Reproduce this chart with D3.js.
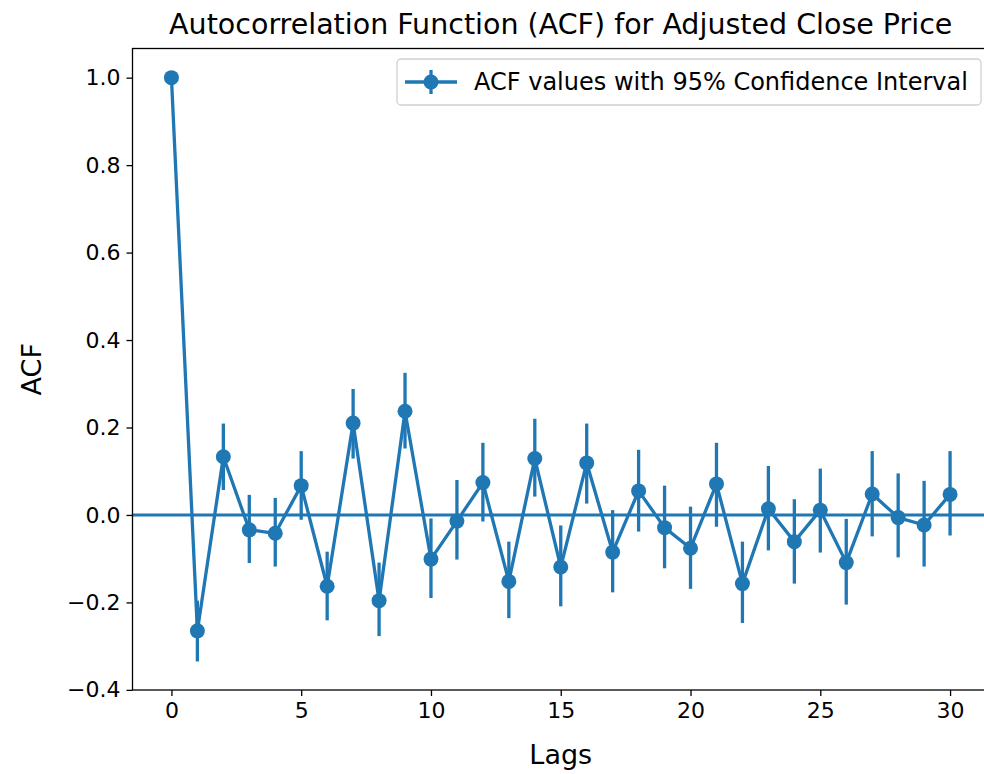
<!DOCTYPE html>
<html>
<head>
<meta charset="utf-8">
<script src="https://cdn.jsdelivr.net/npm/d3@7"></script>
<style>
  body { margin: 0; background: #fff; }
  text { font-family: "DejaVu Sans", sans-serif; fill: #000; }
</style>
</head>
<body>
<div id="chart"></div>
<script>
var lags = d3.range(0, 31);
var acfValues = [1.0, -0.265, 0.133, -0.034, -0.042, 0.067, -0.163, 0.210, -0.196, 0.237,
  -0.101, -0.014, 0.074, -0.152, 0.129, -0.119, 0.119, -0.085, 0.055, -0.029,
  -0.076, 0.071, -0.157, 0.014, -0.061, 0.011, -0.109, 0.048, -0.006, -0.023, 0.047];
var ciLower = [1.0, -0.335, 0.057, -0.110, -0.118, -0.011, -0.241, 0.129, -0.277, 0.152,
  -0.190, -0.102, -0.015, -0.236, 0.042, -0.209, 0.026, -0.177, -0.038, -0.122,
  -0.169, -0.027, -0.247, -0.081, -0.157, -0.086, -0.205, -0.049, -0.097, -0.118, -0.047];
var ciUpper = [1.0, -0.196, 0.209, 0.046, 0.039, 0.146, -0.084, 0.288, -0.109, 0.325,
  -0.008, 0.080, 0.165, -0.061, 0.220, -0.024, 0.209, 0.011, 0.149, 0.067,
  0.019, 0.165, -0.061, 0.112, 0.036, 0.106, -0.009, 0.146, 0.095, 0.078, 0.146];
var xTicks = [0, 5, 10, 15, 20, 25, 30];
var yTicks = [-0.4, -0.2, 0.0, 0.2, 0.4, 0.6, 0.8, 1.0];

var width = 984, height = 774;
var margin = {left: 132.5, top: 48.5, right: -5, bottom: 84};
var blue = "#1f77b4";

var svg = d3.select("#chart").append("svg")
  .attr("width", width)
  .attr("height", height);

var x = d3.scaleLinear().domain([-1.5, 31.5]).range([margin.left, width - margin.right]);
var y = d3.scaleLinear().domain([-0.4003, 1.0667]).range([height - margin.bottom, margin.top]);

var plot = svg.append("g");

// zero line
plot.append("line")
  .attr("x1", x.range()[0]).attr("x2", x.range()[1])
  .attr("y1", y(0)).attr("y2", y(0))
  .attr("stroke", blue).attr("stroke-width", 3);

// error bars
plot.selectAll(".err")
  .data(lags)
  .enter().append("line")
  .attr("class", "err")
  .attr("x1", function(d) { return x(d); })
  .attr("x2", function(d) { return x(d); })
  .attr("y1", function(d) { return y(ciLower[d]); })
  .attr("y2", function(d) { return y(ciUpper[d]); })
  .attr("stroke", blue).attr("stroke-width", 3.3);

var line = d3.line()
  .x(function(d) { return x(d); })
  .y(function(d) { return y(acfValues[d]); });

plot.append("path")
  .datum(lags)
  .attr("d", line)
  .attr("fill", "none")
  .attr("stroke", blue)
  .attr("stroke-width", 3.3)
  .attr("stroke-linejoin", "round");

plot.selectAll(".dot")
  .data(lags)
  .enter().append("circle")
  .attr("class", "dot")
  .attr("cx", function(d) { return x(d); })
  .attr("cy", function(d) { return y(acfValues[d]); })
  .attr("r", 7.5)
  .attr("fill", blue);

// axes
var xAxis = d3.axisBottom(x).tickValues(xTicks).tickSize(6).tickPadding(6)
  .tickFormat(d3.format("d"));
var yAxis = d3.axisLeft(y).tickValues(yTicks).tickSize(6).tickPadding(6)
  .tickFormat(function(d) { return d3.format(".1f")(d).replace("-", "\u2212"); });

var gx = svg.append("g")
  .attr("transform", "translate(0," + (height - margin.bottom) + ")")
  .call(xAxis);
var gy = svg.append("g")
  .attr("transform", "translate(" + margin.left + ",0)")
  .call(yAxis);

[gx, gy].forEach(function(g) {
  g.select(".domain").remove();
  g.selectAll(".tick line").attr("stroke", "#000").attr("stroke-width", 1.3);
  g.selectAll(".tick text").attr("font-size", 22).attr("fill", "#000")
    .style("font-family", "DejaVu Sans");
});

// spines
var sp = svg.append("g").attr("fill", "none").attr("stroke", "#000").attr("stroke-width", 1.3);
sp.append("rect")
  .attr("x", x.range()[0]).attr("y", margin.top)
  .attr("width", x.range()[1] - x.range()[0])
  .attr("height", height - margin.bottom - margin.top);

// title and labels
svg.append("text")
  .attr("x", (x.range()[0] + x.range()[1]) / 2)
  .attr("y", 33.5)
  .attr("text-anchor", "middle")
  .attr("font-size", 28.5)
  .text("Autocorrelation Function (ACF) for Adjusted Close Price");

svg.append("text")
  .attr("x", (x.range()[0] + x.range()[1]) / 2)
  .attr("y", 764)
  .attr("text-anchor", "middle")
  .attr("font-size", 27)
  .text("Lags");

svg.append("text")
  .attr("transform", "translate(41," + ((margin.top + height - margin.bottom) / 2) + ") rotate(-90)")
  .attr("text-anchor", "middle")
  .attr("font-size", 27)
  .text("ACF");

// legend
var lg = svg.append("g").attr("transform", "translate(397,59)");
lg.append("rect")
  .attr("width", 584).attr("height", 46).attr("rx", 4)
  .attr("fill", "#fff").attr("fill-opacity", 0.8)
  .attr("stroke", "#d0d0d0").attr("stroke-width", 1.3);
lg.append("line")
  .attr("x1", 8).attr("x2", 60).attr("y1", 23).attr("y2", 23)
  .attr("stroke", blue).attr("stroke-width", 3.3);
lg.append("line")
  .attr("x1", 34).attr("x2", 34).attr("y1", 11).attr("y2", 35)
  .attr("stroke", blue).attr("stroke-width", 3.3);
lg.append("circle")
  .attr("cx", 34).attr("cy", 23).attr("r", 7.5).attr("fill", blue);
lg.append("text")
  .attr("x", 77).attr("y", 23).attr("dy", "0.35em")
  .attr("font-size", 24)
  .text("ACF values with 95% Confidence Interval");
</script>
</body>
</html>
